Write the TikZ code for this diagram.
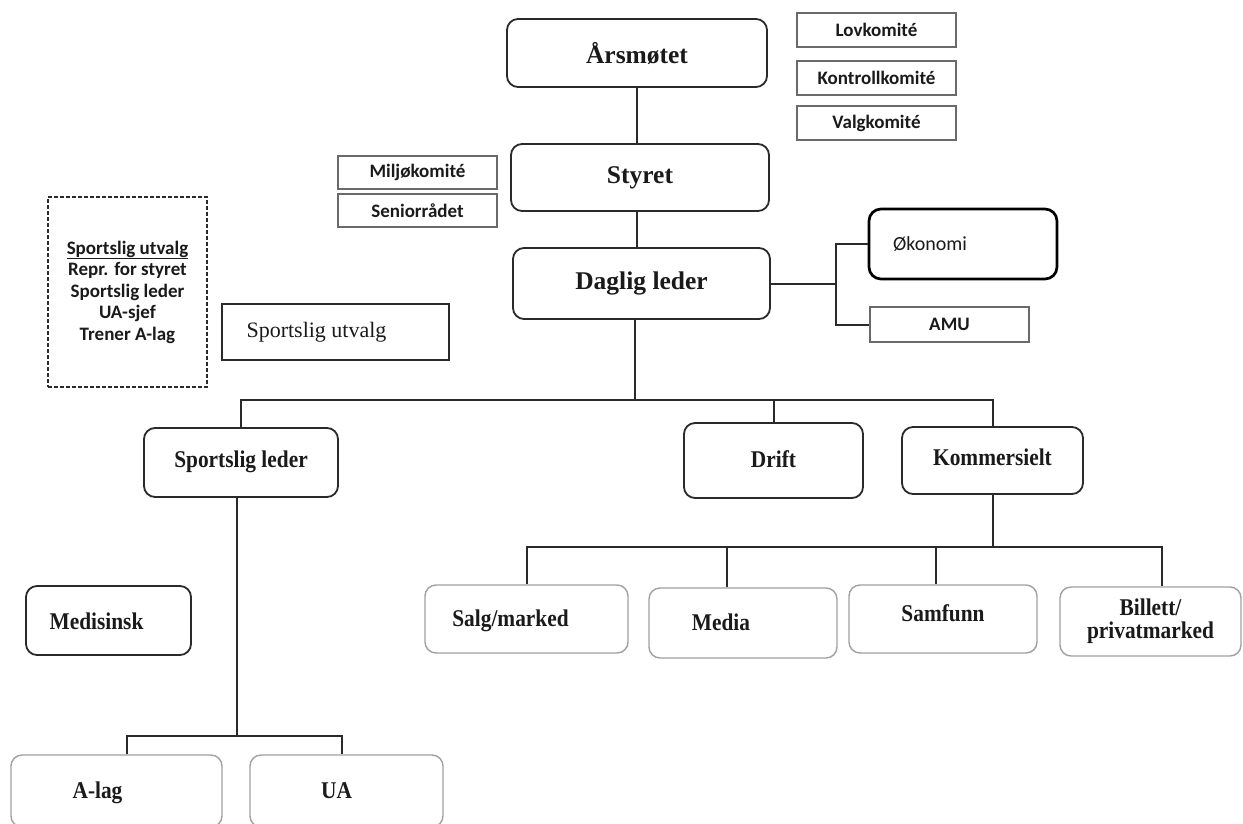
\documentclass[tikz,border=0pt]{standalone}
\usepackage{fontspec}
\setmainfont{Liberation Serif}
\newfontfamily\condserif{Liberation Serif}[FakeStretch=0.89]
\newfontfamily\calib{Carlito}
\definecolor{inkc}{HTML}{1A1A1A}
\definecolor{edgec}{HTML}{2A2A2A}
\definecolor{leafc}{HTML}{A0A0A0}
\definecolor{commc}{HTML}{6A6A6A}

\begin{document}
\begin{tikzpicture}[x=1pt, y=-1pt,
    every node/.style={text=inkc},
    unit/.style={rectangle, rounded corners=11pt, draw=edgec, line width=1.8pt,
                 font=\bfseries\fontsize{25.5}{30}\selectfont},
    sub/.style={unit, text height=16pt, text depth=6pt,
                font=\condserif\bfseries\fontsize{24}{23}\selectfont},
    team/.style={sub, draw=leafc, line width=1.4pt, text height=19pt, text depth=4pt},
    komite/.style={rectangle, draw=commc, line width=2.2pt, minimum width=159pt,
                   font=\calib\bfseries\fontsize{19}{21.5}\selectfont},
    link/.style={draw=edgec, line width=2pt},
    nudge/.style={execute at begin node={\hspace*{#1}}}]
    \path[use as bounding box, fill=white] (0,0) rectangle (1243,823);

    % top of the organisation
    \node[unit, minimum width=260pt, minimum height=68pt] (arsmotet) at (637,53) {Årsmøtet};
    \node[unit, minimum width=258pt, minimum height=67pt] (styret) at (640,177.5) {Styret};
    \node[unit, minimum width=257pt, minimum height=71pt] (daglig) at (641.5,283.5) {Daglig leder};

    \node[komite, minimum height=34pt] (lov) at (876.5,30) {Lovkomité};
    \node[komite, minimum height=34pt] (kontroll) at (876.5,78) {Kontrollkomité};
    \node[komite, minimum height=34pt] (valg) at (876.5,123) {Valgkomité};
    \node[komite, minimum height=33pt] (miljo) at (417.5,172.5) {Miljøkomité};
    \node[komite, minimum height=33pt] (senior) at (417.5,210.5) {Seniorrådet};

    \node[rectangle, draw=edgec, line width=1.2pt, dash pattern=on 4pt off 2pt,
          minimum width=159pt, minimum height=190pt, align=center,
          font=\calib\bfseries\fontsize{19}{21.5}\selectfont] (utvalgliste) at (127.5,292)
          {\underline{Sportslig utvalg}\\Repr. for styret\\Sportslig leder\\UA-sjef\\Trener A-lag};
    \node[rectangle, draw=edgec, line width=1.7pt, minimum width=227pt, minimum height=56pt,
          font=\fontsize{22}{26}\selectfont, nudge=-38pt] (utvalg) at (335.5,332) {Sportslig utvalg};

    \node[rectangle, rounded corners=12pt, draw=black, line width=2.7pt, minimum width=188pt,
          minimum height=70pt, font=\calib\fontsize{20}{24}\selectfont, nudge=-66pt] (okonomi) at (963,244) {Økonomi};
    \node[komite, minimum height=35pt] (amu) at (949.5,324.5) {AMU};

    % departments
    \node[sub, minimum width=194pt, minimum height=69pt] (sportsleder) at (241,462.5) {Sportslig leder};
    \node[sub, minimum width=179pt, minimum height=75pt, text height=17pt, text depth=4pt] (drift) at (773.5,460.5) {Drift};
    \node[sub, minimum width=181pt, minimum height=67pt] (kommersielt) at (992.5,460.5) {Kommersielt};
    \node[sub, minimum width=165pt, minimum height=69pt, text height=19pt, text depth=2pt, nudge=-24pt] (medisinsk) at (108.5,620.5) {Medisinsk};

    \node[team, minimum width=203pt, minimum height=68pt, nudge=-32pt] (salg) at (526.5,619) {Salg/marked};
    \node[team, minimum width=188pt, minimum height=70pt, nudge=-44pt] (media) at (743,623) {Media};
    \node[team, minimum width=188pt, minimum height=68pt, text height=17pt, text depth=13pt] (samfunn) at (943,619) {Samfunn};
    \node[team, minimum width=181pt, minimum height=69pt, text height=, text depth=, align=center] (billett) at (1150.5,621.5) {Billett/\\privatmarked};
    \node[team, minimum width=211pt, minimum height=72pt, nudge=-38pt] (alag) at (116.5,791) {A-lag};
    \node[team, minimum width=193pt, minimum height=72pt, nudge=-20pt] (ua) at (346.5,791) {UA};

    % lines
    \draw[link] (arsmotet.south) -- (arsmotet.south |- styret.north);
    \draw[link] (styret.south -| arsmotet.south) -- (daglig.north -| arsmotet.south);

    \coordinate (okfork) at (836,279);
    \draw[link] (daglig.east) -- (okfork |- daglig.east);
    \draw[link] (okonomi.west) -| (okfork) |- (amu.west);

    \coordinate (hub) at (635,400);
    \draw[link] (daglig.south -| hub) -- (hub);
    \draw[link] (sportsleder.north) |- (hub) -| (kommersielt.north);
    \draw[link] (drift.north) -- (drift.north |- hub);

    \coordinate (kbus) at (991,547);
    \coordinate (mediatop) at ([xshift=-16pt]media.north);
    \coordinate (samfunntop) at ([xshift=-7pt]samfunn.north);
    \coordinate (billetttop) at ([xshift=11pt]billett.north);
    \draw[link] (kommersielt.south) -- (kommersielt.south |- kbus);
    \draw[link] (salg.north) |- (kbus) -| (billetttop);
    \draw[link] (mediatop) -- (mediatop |- kbus);
    \draw[link] (samfunntop) -- (samfunntop |- kbus);

    \coordinate (sbus) at (237,736);
    \coordinate (alagtop) at ([xshift=10pt]alag.north);
    \coordinate (uatop) at ([xshift=-5pt]ua.north);
    \draw[link] (sportsleder.south -| sbus) -- (sbus);
    \draw[link] (alagtop) |- (sbus) -| (uatop);
\end{tikzpicture}
\end{document}
